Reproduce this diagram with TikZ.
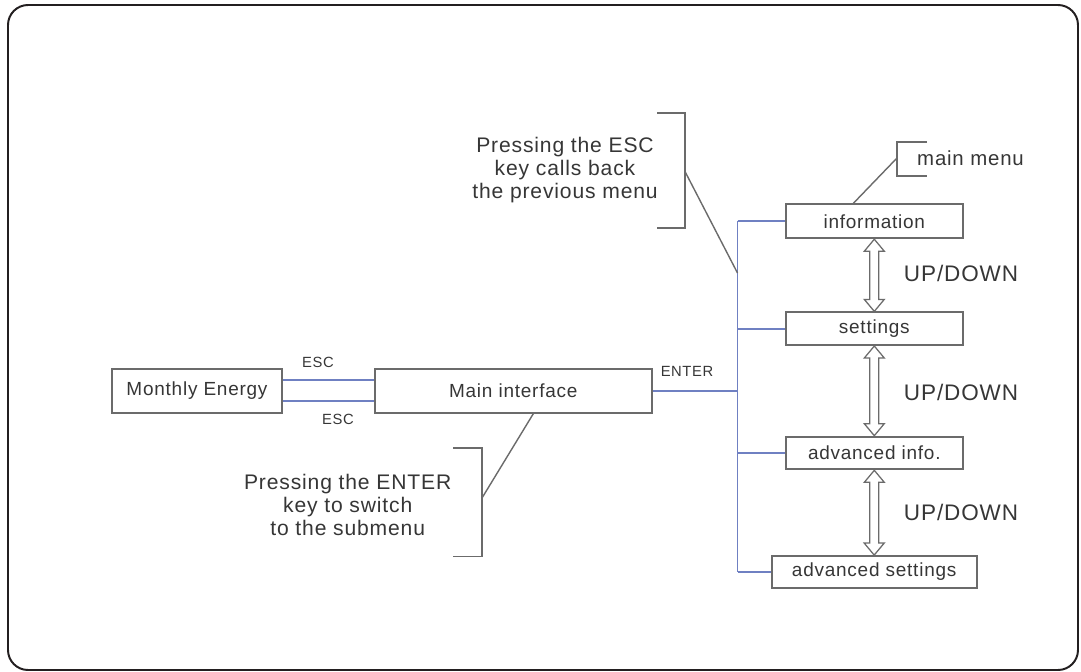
\documentclass[tikz,border=0pt]{standalone}
\usepackage{fontspec}
\setmainfont{Liberation Sans}[LetterSpace=4]
\usetikzlibrary{arrows.meta,positioning,calc}
\definecolor{framedark}{HTML}{231F20}
\definecolor{boxgray}{HTML}{6B6B6B}
\definecolor{textgray}{HTML}{363636}
\definecolor{linkblue}{HTML}{6F80C2}
\newcommand{\menuswap}[2]{%
  \draw[swap] (#1.south) -- ++(-10,12) -- ++(5.5,0) -- ($(#2.north)+(-4.5,-12)$)
    -- ++(-5.5,0) -- (#2.north) -- ++(10,-12) -- ++(-5.5,0) -- ($(#1.south)+(4.5,12)$)
    -- ++(5.5,0) -- cycle;}

\begin{document}
\begin{tikzpicture}[
  x=0.025cm, y=-0.025cm,
  menu/.style={rectangle, draw=boxgray, line width=1.3pt, fill=white, inner sep=0pt, align=center, text=textgray, font=\fontsize{13.5}{16}\selectfont},
  note/.style={align=center, text=textgray, font=\fontsize{15}{16.6}\selectfont},
  keylabel/.style={text=textgray, font=\fontsize{10.5}{12}\selectfont},
  updown/.style={anchor=west, text=textgray, font=\fontsize{16}{19}\selectfont},
  link/.style={draw=linkblue, line width=1.2pt},
  lead/.style={draw=boxgray, line width=1pt},
  brace/.style={draw=boxgray, line width=1.2pt},
  swap/.style={draw=boxgray, line width=0.9pt, fill=white, line join=miter}
]
\useasboundingbox (0,0) rectangle (1081,672);
\draw[framedark, line width=1.4pt, rounded corners=0.5cm] (8,5) rectangle (1078,670);

\node[menu, minimum width=4.23cm, minimum height=1.09cm] (mon) at (197,391) {Monthly Energy};
\node[menu, minimum width=6.92cm, minimum height=1.09cm] (main) at (513.3,391) {Main interface};
\node[menu, minimum width=4.42cm, minimum height=0.85cm] (info) at (874.3,221.3) {information};
\node[menu, minimum width=4.42cm, minimum height=0.82cm] (sett) at (874.3,328.7) {settings};
\node[menu, minimum width=4.42cm, minimum height=0.82cm] (advi) at (874.3,453) {advanced info.};
\node[menu, minimum width=5.125cm, minimum height=0.8cm] (advs) at (874.2,572) {advanced settings};

\node[keylabel] (esctop) at (318,362) {ESC};
\node[keylabel] (escbot) at (338,419) {ESC};
\node[keylabel] (enter) at (687,371) {ENTER};

\node[updown] (ud1) at (899,273) {UP/DOWN};
\node[updown] (ud2) at (899,392) {UP/DOWN};
\node[updown] (ud3) at (899,512) {UP/DOWN};

\node[note] (escnote) at (565,170) {Pressing the ESC\\key calls back\\the previous menu};
\node[note] (enternote) at (347.7,505) {Pressing the ENTER\\key to switch\\to the submenu};
\node[note, font=\fontsize{14.5}{17}\selectfont] (mainmenu) at (970.5,158) {main menu};

\draw[link] ($(mon.east)+(0,-11)$) -- ($(main.west)+(0,-11)$);
\draw[link] ($(mon.east)+(0,10)$) -- ($(main.west)+(0,10)$);
\coordinate (bus) at (737.5,391);
\draw[link] (main.east) -- (main.east -| bus);
\draw[link] (bus |- info.west) -- (bus |- advs.west);
\foreach \m in {info,sett,advi,advs}
  \draw[link] (bus |- \m.west) -- (\m.west);

\menuswap{info}{sett}
\menuswap{sett}{advi}
\menuswap{advi}{advs}

\draw[brace] (657,113) -| (685,228) -- (657,228);
\draw[brace] (453,448) -| (482,556.5) -- (453,556.5);
\draw[brace] (927,142) -| (897,176) -- (927,176);
\coordinate (escbr) at (685,171.5);
\coordinate (enterbr) at (482,498);
\coordinate (menubr) at (897,158);
\coordinate (escpt) at (737.5,273);
\draw[lead] (escbr) -- (escpt);
\draw[lead] (enterbr) -- ($(main.south)+(20,0)$);
\draw[lead] (menubr) -- ($(info.north)+(-21,0)$);
\end{tikzpicture}
\end{document}
